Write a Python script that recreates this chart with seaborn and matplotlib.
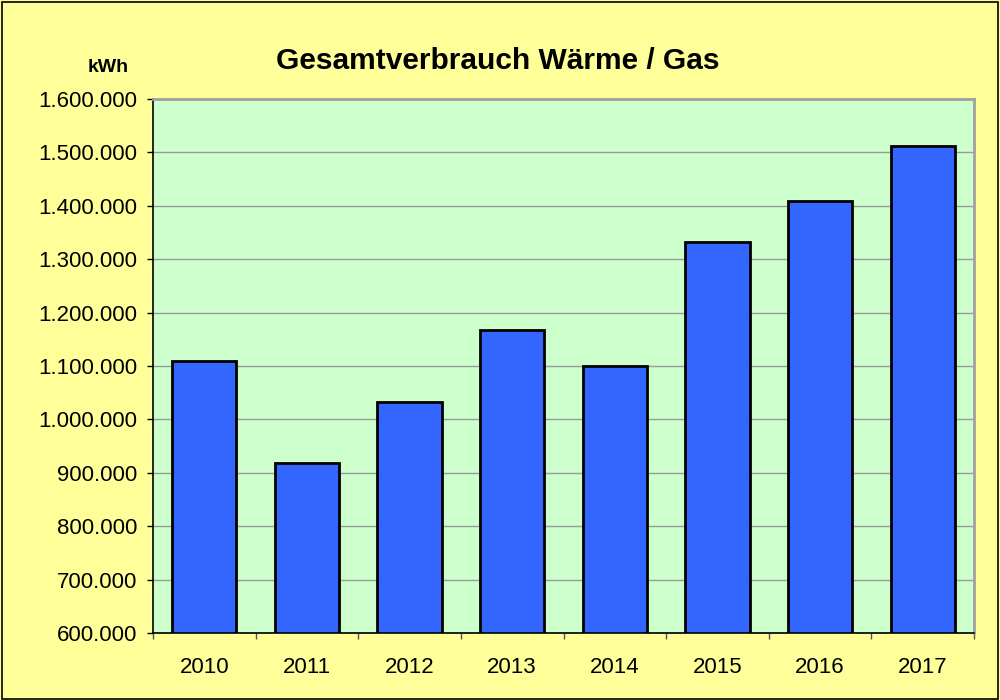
import matplotlib
matplotlib.use("Agg")
import matplotlib.pyplot as plt
import seaborn as sns
from matplotlib.ticker import FuncFormatter, FixedLocator
from matplotlib.patches import Rectangle

years = ["2010", "2011", "2012", "2013", "2014", "2015", "2016", "2017"]
consumption = [1110000, 918000, 1033000, 1167000, 1100000, 1333000, 1409000, 1512000]
title = "Gesamtverbrauch Wärme / Gas"
unit = "kWh"

sns.set_style("white")
plt.rcParams["font.family"] = ["Liberation Sans", "DejaVu Sans"]
plt.rcParams["text.color"] = "black"
plt.rcParams["xtick.labelcolor"] = "black"
plt.rcParams["ytick.labelcolor"] = "black"

fig = plt.figure(figsize=(10, 7), dpi=100, facecolor="#FFFF99")
ax = fig.add_axes([0.153, 0.0957, 0.821, 0.7629])
ax.set_facecolor("#CCFFCC")

sns.barplot(x=years, y=consumption, color="#3366FF", edgecolor="black",
            linewidth=2.0, width=0.625, saturation=1, ax=ax, zorder=3)

ax.set_ylim(600000, 1600000)
ax.set_xlim(-0.5, len(years) - 0.5)
ax.set_yticks(range(600000, 1600001, 100000))
ax.yaxis.set_major_formatter(FuncFormatter(lambda v, p: f"{v:,.0f}".replace(",", ".")))
ax.grid(axis="y", color="#999999", linewidth=1.0, zorder=1)
ax.set_axisbelow(True)

ax.tick_params(axis="y", which="major", direction="out", length=4.5, width=1,
               color="black", labelsize=16, pad=7, left=True, labelcolor="black")
ax.tick_params(axis="x", which="major", length=0, labelsize=16, pad=17, labelcolor="black")
ax.xaxis.set_minor_locator(FixedLocator([i - 0.5 for i in range(len(years) + 1)]))
ax.tick_params(axis="x", which="minor", direction="out", length=4.5, width=1,
               color="#555555", bottom=True)
ax.set_xlabel("")
ax.set_ylabel("")

for side in ["left", "bottom"]:
    ax.spines[side].set_color("black")
    ax.spines[side].set_linewidth(1.2)
for side in ["top", "right"]:
    ax.spines[side].set_color("#A0A0A0")
    ax.spines[side].set_linewidth(2)
    ax.spines[side].set_visible(True)
for side in ax.spines:
    ax.spines[side].set_zorder(5)

fig.text(0.498, 0.913, title, ha="center", va="center", fontsize=21.5,
         fontweight="bold", color="black")
fig.text(0.108, 0.904, unit, ha="center", va="center", fontsize=14,
         fontweight="bold", color="black")

fig.patches.append(Rectangle((0.002, 0.002), 0.996, 0.995, transform=fig.transFigure,
                             fill=False, edgecolor="black", linewidth=1.2))

fig.savefig("out.png", dpi=100, facecolor=fig.get_facecolor())
